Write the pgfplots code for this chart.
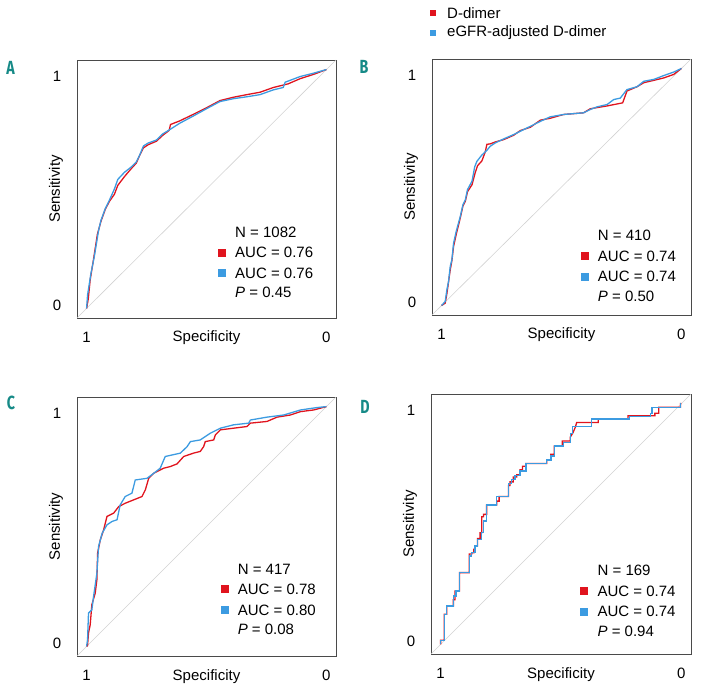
\documentclass[border=0pt]{standalone}
\usepackage{fontspec}
\setmainfont{Liberation Sans}
\newfontfamily\letterfont{Fira Sans}
\usepackage{pgfplots}
\pgfplotsset{compat=1.18}

\definecolor{ddred}{HTML}{E0141E}
\definecolor{ddblue}{HTML}{3C9BE1}
\definecolor{panteal}{HTML}{168A87}
\definecolor{boxgray}{HTML}{4A4A4A}
\newcommand{\fs}{\fontsize{15}{15}\selectfont}

\pgfplotsset{
  rocax/.style={
    scale only axis, width=259pt, height=258pt,
    xmin=-0.04, xmax=1.04, ymin=-0.04, ymax=1.04,
    x dir=reverse,
    xtick={0,1}, ytick={0.013,0.973}, yticklabels={0,1},
    major tick length=0pt,
    axis line style={boxgray, line width=0.9pt},
    /pgf/number format/assume math mode=true,
    tick label style={font=\fs},
    xticklabel style={anchor=base, yshift=-24pt},
    yticklabel style={anchor=center, xshift=-20pt},
    xlabel={Specificity}, ylabel={Sensitivity},
    label style={font=\fs},
    xlabel style={at={(axis description cs:0.5,-0.093)}, anchor=base},
    ylabel style={at={(axis description cs:-0.081,0.5)}, anchor=center},
  },
  redroc/.style={ddred, line width=1.3pt},
  blueroc/.style={ddblue, line width=1.3pt},
  diag/.style={gray!35, line width=0.6pt},
}

% #1 x, #2 y of first line, #3 N, #4 red AUC, #5 blue AUC, #6 P
\newcommand{\stats}[6]{%
  \node[anchor=west, inner sep=0pt, font=\fs] at (axis description cs:#1,#2) {N = #3};
  \node[anchor=west, inner sep=0pt, font=\fs, yshift=-20.5pt] at (axis description cs:#1,#2) {AUC = #4};
  \node[anchor=west, inner sep=0pt, font=\fs, yshift=-41pt] at (axis description cs:#1,#2) {AUC = #5};
  \node[anchor=west, inner sep=0pt, font=\fs, yshift=-60.5pt] at (axis description cs:#1,#2) {\textit{P} = #6};
  \node[fill=ddred, minimum size=8pt, inner sep=0pt, xshift=-13pt, yshift=-20.5pt] at (axis description cs:#1,#2) {};
  \node[fill=ddblue, minimum size=8pt, inner sep=0pt, xshift=-13pt, yshift=-41pt] at (axis description cs:#1,#2) {};
}

\begin{document}
\begin{tikzpicture}
\useasboundingbox (0pt,0pt) rectangle (701pt,-695pt);

% legend
\node[fill=ddred, minimum size=6.5pt, inner sep=0pt] at (433pt,-13pt) {};
\node[anchor=west, inner sep=0pt, font=\fs] at (447pt,-13pt) {D-dimer};
\node[fill=ddblue, minimum size=6.5pt, inner sep=0pt] at (433pt,-33pt) {};
\node[anchor=west, inner sep=0pt, font=\fs] at (447pt,-33pt) {eGFR-adjusted D-dimer};

% panel letters
\foreach \l/\px/\py in {A/10.5/68, B/364/67, C/11/403, D/365/407}
  \node[text=panteal, font=\letterfont\bfseries\fontsize{19}{19}\selectfont] at (\px pt,-\py pt) {\scalebox{0.75}[1]{\l}};

% A
\begin{axis}[rocax, at={(77pt,-318pt)}, anchor=south west]
\addplot[diag] coordinates {(1.04,-0.04)(-0.04,1.04)};
\addplot[redroc] coordinates {
(1,0)(0.993,0.040)(0.985,0.120)(0.972,0.200)(0.955,0.310)(0.940,0.365)(0.922,0.415)
(0.905,0.448)(0.884,0.478)(0.870,0.515)(0.842,0.552)(0.814,0.585)(0.793,0.608)
(0.779,0.640)(0.763,0.672)(0.744,0.685)(0.709,0.700)(0.682,0.725)(0.656,0.745)
(0.650,0.770)(0.612,0.785)(0.556,0.812)(0.500,0.840)(0.444,0.870)(0.388,0.884)
(0.332,0.895)(0.277,0.905)(0.221,0.925)(0.160,0.940)(0.109,0.962)(0.053,0.980)(0,1)};
\addplot[blueroc] coordinates {
(1,0)(0.996,0.056)(0.982,0.146)(0.968,0.216)(0.950,0.327)(0.940,0.369)(0.922,0.418)
(0.905,0.453)(0.884,0.500)(0.870,0.540)(0.842,0.570)(0.814,0.592)(0.793,0.613)
(0.779,0.641)(0.763,0.680)(0.744,0.692)(0.709,0.705)(0.682,0.731)(0.654,0.748)
(0.612,0.775)(0.556,0.805)(0.500,0.836)(0.444,0.866)(0.388,0.878)(0.332,0.886)
(0.277,0.895)(0.221,0.915)(0.180,0.925)(0.172,0.947)(0.109,0.971)(0.053,0.985)(0,1)};
\stats{0.61}{0.333}{1082}{0.76}{0.76}{0.45}
\end{axis}

% B
\begin{axis}[rocax, at={(432pt,-315pt)}, anchor=south west, height=256pt]
\addplot[diag] coordinates {(1.04,-0.04)(-0.04,1.04)};
\addplot[redroc] coordinates {
(1,0)(0.985,0.010)(0.978,0.050)(0.971,0.100)(0.964,0.150)(0.957,0.190)(0.950,0.250)
(0.939,0.300)(0.922,0.370)(0.911,0.420)(0.901,0.440)(0.892,0.480)(0.873,0.510)
(0.860,0.560)(0.850,0.590)(0.832,0.610)(0.818,0.648)(0.811,0.680)(0.797,0.682)
(0.776,0.690)(0.741,0.700)(0.700,0.718)(0.672,0.738)(0.630,0.752)(0.588,0.782)
(0.547,0.790)(0.491,0.806)(0.408,0.813)(0.380,0.830)(0.352,0.835)(0.310,0.842)
(0.245,0.855)(0.227,0.905)(0.185,0.923)(0.157,0.940)(0.115,0.950)(0.074,0.960)
(0.032,0.975)(0,1)};
\addplot[blueroc] coordinates {
(1,0)(0.985,0.017)(0.978,0.066)(0.971,0.101)(0.964,0.165)(0.957,0.193)(0.950,0.263)
(0.939,0.313)(0.922,0.376)(0.911,0.425)(0.901,0.446)(0.892,0.489)(0.873,0.525)
(0.862,0.585)(0.853,0.608)(0.832,0.635)(0.811,0.655)(0.797,0.672)(0.776,0.686)
(0.741,0.703)(0.700,0.721)(0.672,0.735)(0.630,0.756)(0.588,0.777)(0.547,0.796)
(0.491,0.806)(0.408,0.813)(0.380,0.827)(0.352,0.838)(0.310,0.848)(0.282,0.869)
(0.255,0.875)(0.227,0.911)(0.185,0.923)(0.157,0.946)(0.115,0.954)(0.074,0.970)
(0.032,0.985)(0,1)};
\stats{0.64}{0.31}{410}{0.74}{0.74}{0.50}
\end{axis}

% C
\begin{axis}[rocax, at={(77pt,-656pt)}, anchor=south west, height=259pt]
\addplot[diag] coordinates {(1.04,-0.04)(-0.04,1.04)};
\addplot[redroc] coordinates {
(1,0)(0.996,0.003)(0.992,0.056)(0.985,0.090)(0.978,0.174)(0.964,0.222)(0.957,0.278)
(0.954,0.389)(0.943,0.444)(0.929,0.486)(0.915,0.542)(0.887,0.556)(0.866,0.583)
(0.839,0.597)(0.804,0.611)(0.769,0.625)(0.755,0.653)(0.741,0.701)(0.720,0.722)
(0.679,0.743)(0.651,0.750)(0.623,0.761)(0.595,0.792)(0.554,0.806)(0.526,0.813)
(0.512,0.833)(0.505,0.854)(0.470,0.861)(0.463,0.882)(0.442,0.903)(0.387,0.910)
(0.331,0.917)(0.317,0.931)(0.248,0.938)(0.206,0.956)(0.150,0.965)(0.108,0.979)
(0.053,0.986)(0,1)};
\addplot[blueroc] coordinates {
(1,0)(0.996,0.028)(0.992,0.139)(0.978,0.153)(0.971,0.208)(0.957,0.306)(0.950,0.417)
(0.935,0.472)(0.915,0.507)(0.894,0.521)(0.873,0.528)(0.860,0.590)(0.839,0.625)
(0.811,0.639)(0.797,0.694)(0.748,0.701)(0.720,0.722)(0.693,0.743)(0.672,0.792)
(0.609,0.806)(0.581,0.833)(0.567,0.854)(0.526,0.861)(0.484,0.889)(0.442,0.910)
(0.387,0.924)(0.324,0.931)(0.317,0.944)(0.248,0.956)(0.178,0.965)(0.108,0.986)
(0.039,0.996)(0,1)};
\stats{0.62}{0.336}{417}{0.78}{0.80}{0.08}
\end{axis}

% D
\begin{axis}[rocax, at={(431pt,-654pt)}, anchor=south west, width=260pt, height=260pt]
\addplot[diag] coordinates {(1.04,-0.04)(-0.04,1.04)};
\addplot[redroc] coordinates {
(1,0)(1,0.017)(0.985,0.017)(0.985,0.125)(0.975,0.125)(0.975,0.159)(0.947,0.159)
(0.947,0.185)(0.940,0.185)(0.940,0.222)(0.922,0.222)(0.922,0.298)(0.881,0.298)
(0.881,0.375)(0.871,0.375)(0.871,0.381)(0.862,0.381)(0.862,0.395)(0.857,0.395)
(0.857,0.409)(0.847,0.409)(0.847,0.440)(0.836,0.440)(0.836,0.464)(0.829,0.464)
(0.829,0.530)(0.822,0.530)(0.822,0.540)(0.809,0.540)(0.809,0.579)(0.767,0.579)
(0.767,0.595)(0.757,0.595)(0.757,0.614)(0.718,0.614)(0.718,0.660)(0.712,0.660)
(0.712,0.675)(0.698,0.675)(0.698,0.695)(0.684,0.695)(0.684,0.705)(0.670,0.705)
(0.670,0.725)(0.660,0.725)(0.660,0.740)(0.646,0.740)(0.646,0.751)(0.559,0.751)
(0.559,0.766)(0.542,0.766)(0.542,0.790)(0.528,0.790)(0.528,0.824)(0.495,0.824)
(0.495,0.845)(0.462,0.845)(0.462,0.860)(0.450,0.880)(0.440,0.903)(0.435,0.922)
(0.345,0.922)(0.345,0.936)(0.222,0.936)(0.222,0.950)(0.110,0.950)(0.110,0.960)
(0.094,0.960)(0.094,0.985)(0.004,0.985)(0.004,1)(0,1)};
\addplot[blueroc] coordinates {
(1,0)(1,0.017)(0.985,0.017)(0.985,0.125)(0.975,0.125)(0.975,0.159)(0.947,0.159)
(0.947,0.201)(0.936,0.201)(0.936,0.222)(0.922,0.222)(0.922,0.298)(0.881,0.298)
(0.881,0.367)(0.871,0.367)(0.871,0.381)(0.857,0.381)(0.857,0.409)(0.847,0.409)
(0.847,0.436)(0.829,0.436)(0.829,0.464)(0.822,0.464)(0.822,0.512)(0.809,0.512)
(0.809,0.579)(0.767,0.579)(0.767,0.614)(0.718,0.614)(0.718,0.669)(0.705,0.669)
(0.705,0.686)(0.691,0.686)(0.691,0.702)(0.670,0.702)(0.670,0.720)(0.646,0.720)
(0.646,0.751)(0.559,0.751)(0.559,0.766)(0.542,0.766)(0.542,0.783)(0.528,0.783)
(0.528,0.824)(0.490,0.824)(0.490,0.838)(0.462,0.838)(0.462,0.875)(0.451,0.875)
(0.451,0.906)(0.372,0.906)(0.372,0.936)(0.215,0.936)(0.215,0.948)(0.129,0.948)
(0.129,0.960)(0.122,0.960)(0.122,0.985)(0.004,0.985)(0.004,1)(0,1)};
\stats{0.64}{0.32}{169}{0.74}{0.74}{0.94}
\end{axis}
\end{tikzpicture}
\end{document}
